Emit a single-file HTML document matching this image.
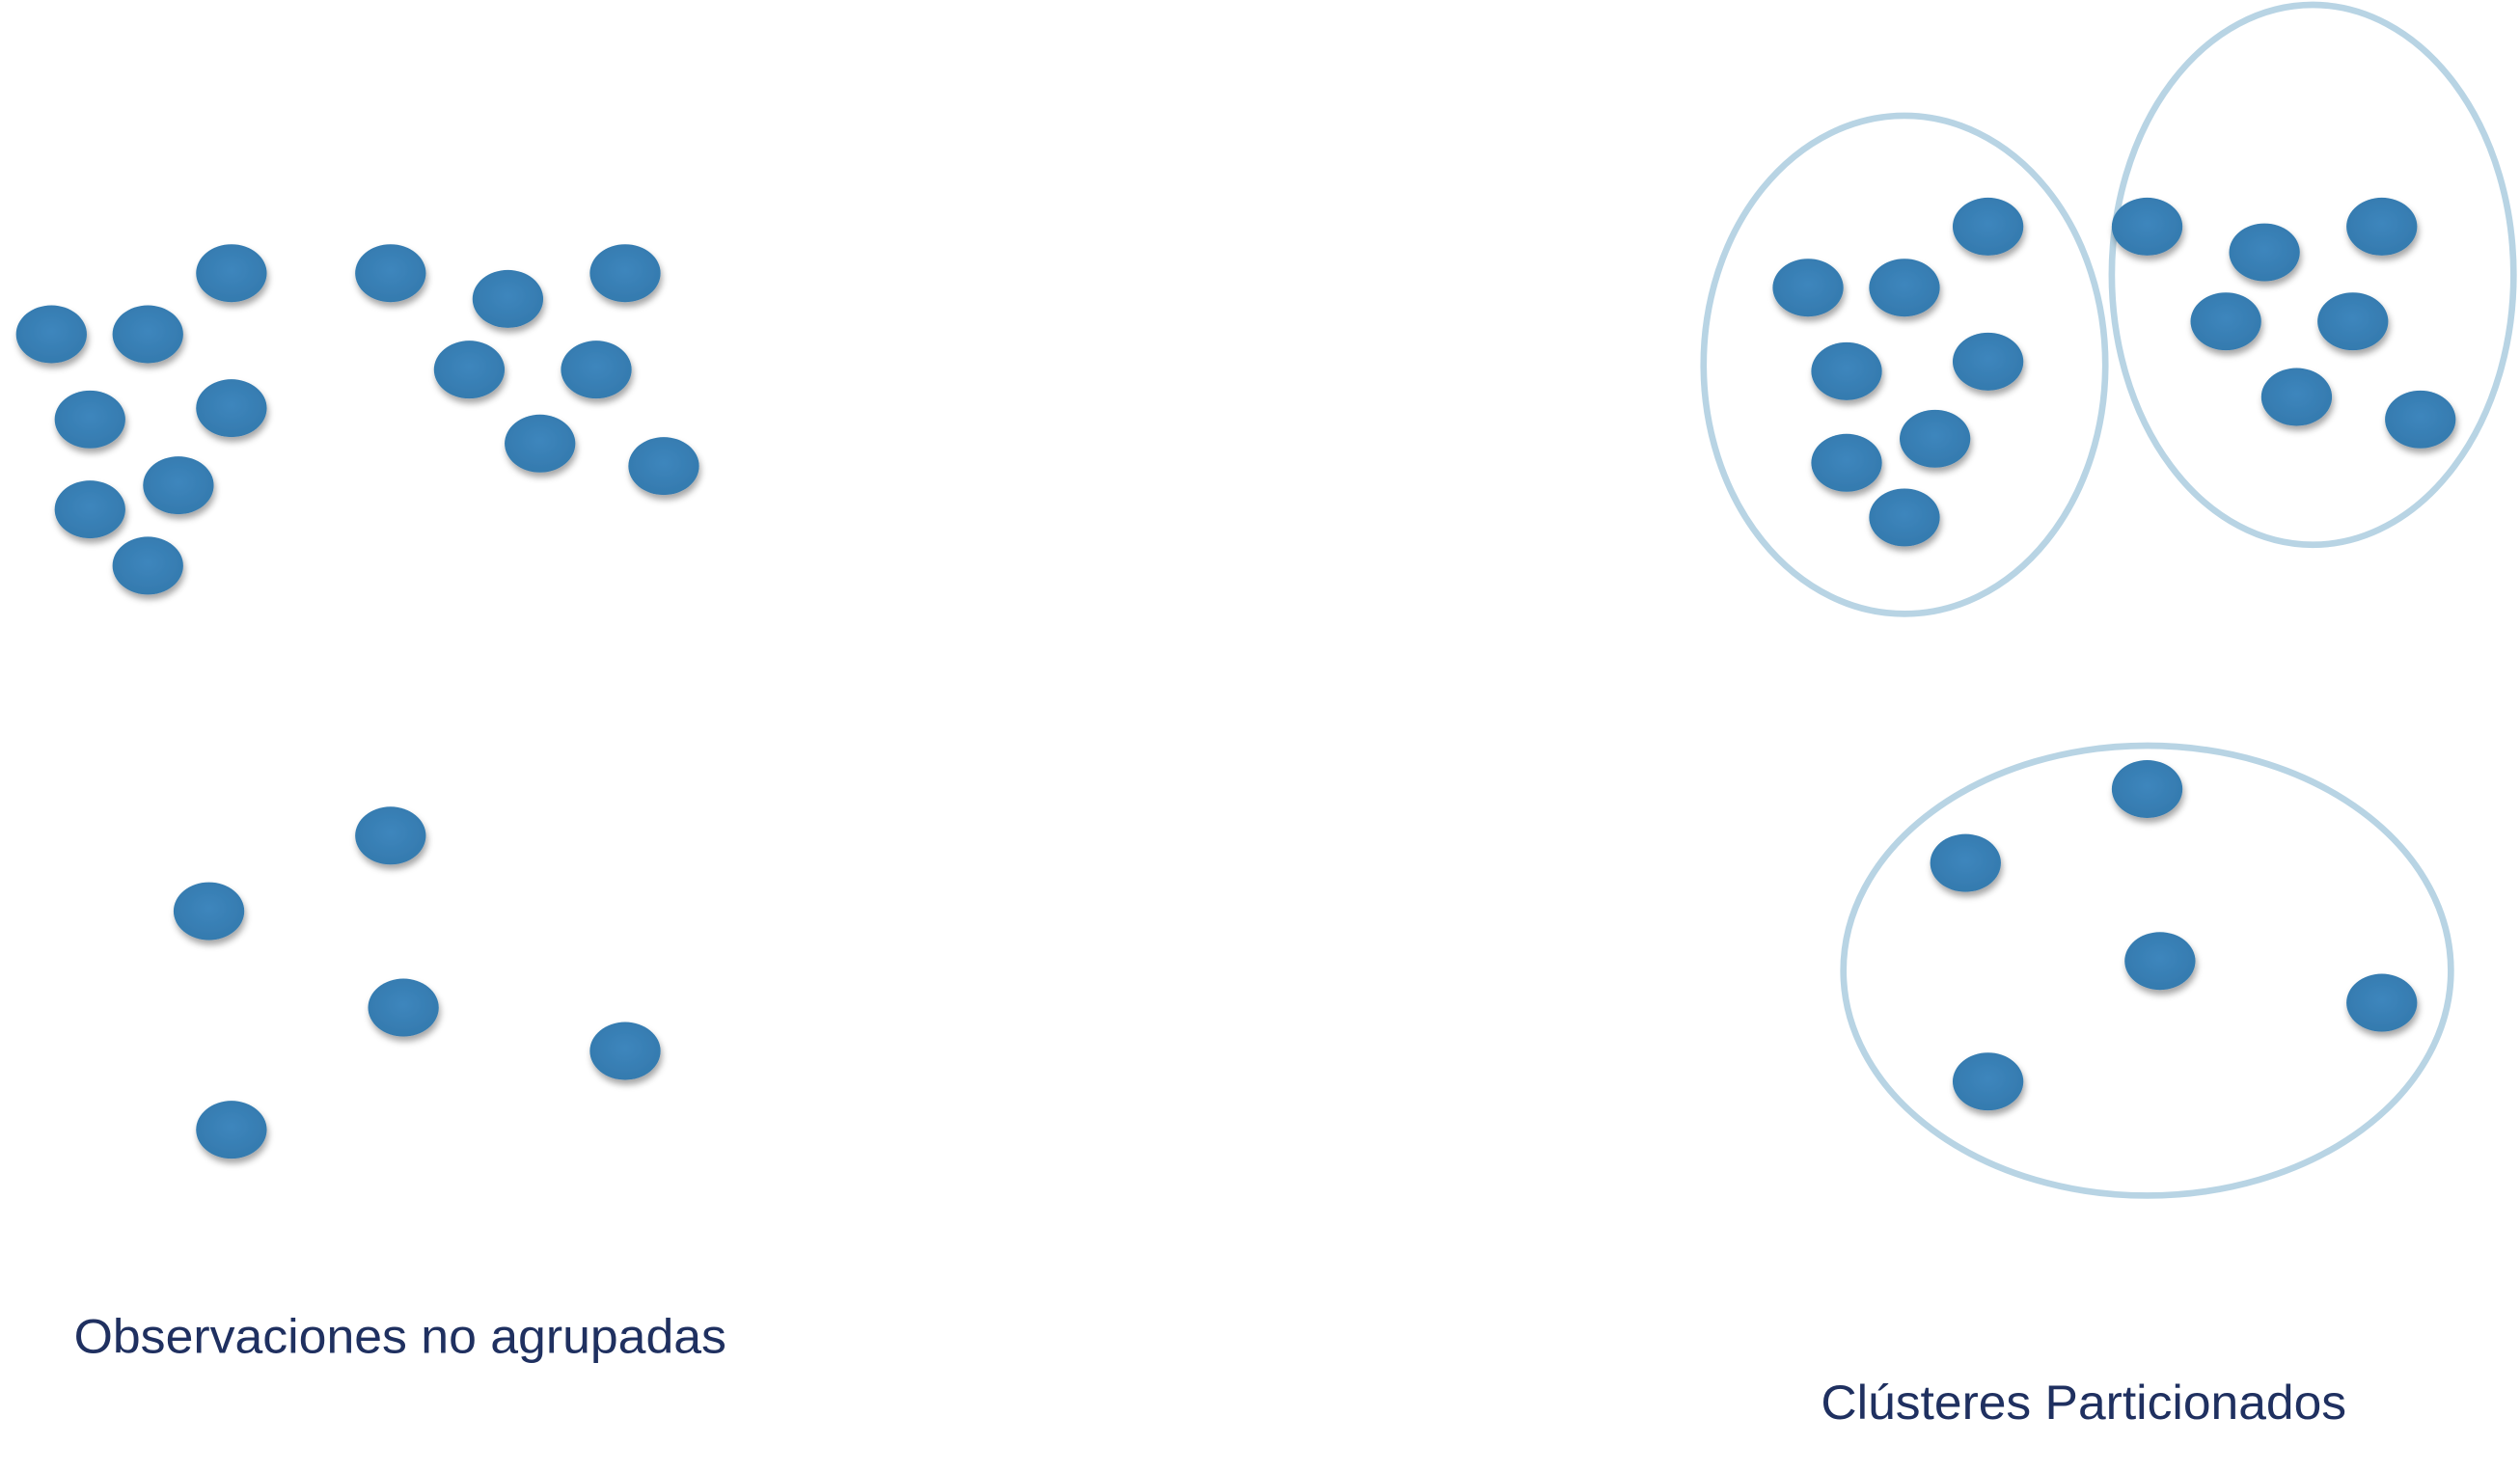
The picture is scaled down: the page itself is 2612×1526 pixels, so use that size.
<!DOCTYPE html>
<html><head><meta charset="utf-8"><style>
html,body{margin:0;padding:0;background:#fff}
svg{display:block}
</style></head><body>
<svg width="2612" height="1526" viewBox="0 0 1568 916" preserveAspectRatio="none" xmlns="http://www.w3.org/2000/svg">
<defs>
<filter id="sh" x="-30%" y="-30%" width="160%" height="170%">
<feDropShadow dx="1" dy="3" stdDeviation="2" flood-color="#000" flood-opacity="0.35"/>
</filter>
<radialGradient id="g" cx="50%" cy="45%" r="60%">
<stop offset="0" stop-color="#3d86bd"/><stop offset="1" stop-color="#3479ad"/>
</radialGradient>
</defs>
<g fill="none" stroke="#b8d4e4" stroke-width="4">
<ellipse cx="1185" cy="227" rx="125" ry="155"/>
<ellipse cx="1439" cy="171" rx="125" ry="168"/>
<ellipse cx="1336" cy="604" rx="189" ry="140"/>
</g>
<g fill="url(#g)" filter="url(#sh)">
<ellipse cx="144" cy="170" rx="22" ry="18"/><ellipse cx="32" cy="208" rx="22" ry="18"/>
<ellipse cx="92" cy="208" rx="22" ry="18"/><ellipse cx="56" cy="261" rx="22" ry="18"/>
<ellipse cx="144" cy="254" rx="22" ry="18"/><ellipse cx="111" cy="302" rx="22" ry="18"/>
<ellipse cx="56" cy="317" rx="22" ry="18"/><ellipse cx="92" cy="352" rx="22" ry="18"/>
<ellipse cx="243" cy="170" rx="22" ry="18"/><ellipse cx="316" cy="186" rx="22" ry="18"/>
<ellipse cx="389" cy="170" rx="22" ry="18"/><ellipse cx="292" cy="230" rx="22" ry="18"/>
<ellipse cx="371" cy="230" rx="22" ry="18"/><ellipse cx="336" cy="276" rx="22" ry="18"/>
<ellipse cx="413" cy="290" rx="22" ry="18"/>
<ellipse cx="243" cy="520" rx="22" ry="18"/><ellipse cx="130" cy="567" rx="22" ry="18"/>
<ellipse cx="251" cy="627" rx="22" ry="18"/><ellipse cx="389" cy="654" rx="22" ry="18"/>
<ellipse cx="144" cy="703" rx="22" ry="18"/>
<ellipse cx="1237" cy="141" rx="22" ry="18"/><ellipse cx="1125" cy="179" rx="22" ry="18"/>
<ellipse cx="1185" cy="179" rx="22" ry="18"/><ellipse cx="1149" cy="231" rx="22" ry="18"/>
<ellipse cx="1237" cy="225" rx="22" ry="18"/><ellipse cx="1204" cy="273" rx="22" ry="18"/>
<ellipse cx="1149" cy="288" rx="22" ry="18"/><ellipse cx="1185" cy="322" rx="22" ry="18"/>
<ellipse cx="1336" cy="141" rx="22" ry="18"/><ellipse cx="1409" cy="157" rx="22" ry="18"/>
<ellipse cx="1482" cy="141" rx="22" ry="18"/><ellipse cx="1385" cy="200" rx="22" ry="18"/>
<ellipse cx="1464" cy="200" rx="22" ry="18"/><ellipse cx="1429" cy="247" rx="22" ry="18"/>
<ellipse cx="1506" cy="261" rx="22" ry="18"/>
<ellipse cx="1336" cy="491" rx="22" ry="18"/><ellipse cx="1223" cy="537" rx="22" ry="18"/>
<ellipse cx="1344" cy="598" rx="22" ry="18"/><ellipse cx="1482" cy="624" rx="22" ry="18"/>
<ellipse cx="1237" cy="673" rx="22" ry="18"/>
</g>
<g font-family="Liberation Sans, sans-serif" font-size="30" fill="#1f3060">
<text x="46" y="842" textLength="406" lengthAdjust="spacingAndGlyphs">Observaciones no agrupadas</text>
<text x="1133" y="883" textLength="327" lengthAdjust="spacingAndGlyphs">Clústeres Particionados</text>
</g>
</svg>
</body></html>
